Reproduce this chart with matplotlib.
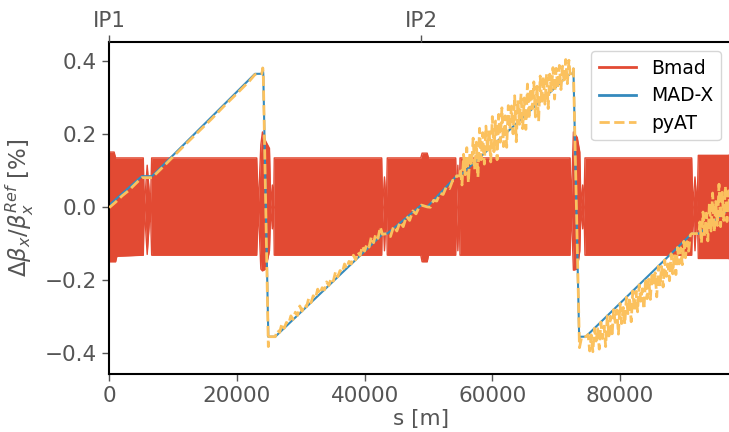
import matplotlib
matplotlib.use("Agg")
import matplotlib.pyplot as plt
import numpy as np

# ---------------- data ----------------
circumference = 97756
ip_positions = [0, 48878]
ip_labels = ["IP1", "IP2"]

# Bmad: envelope of the fast beta-beat oscillation
bmad_s = [0, 770, 1000, 1200, 5340, 5500, 5950, 6450, 6650,
          23100, 23350, 23750, 24000, 24500, 25100, 25300, 25550, 25750, 25850,
          42670, 42820, 43110, 43400, 43550,
          48800, 49000, 49800, 50000,
          54260, 54400, 54600, 54800, 54940,
          72170, 72350, 72700, 73300, 73700, 73880, 74150, 74350, 74510,
          91220, 91400, 91740, 92080, 92260, 97000, 97756]
bmad_upper = [0.150, 0.150, 0.134, 0.134, 0.134, 0.0, 0.114, 0.0, 0.134,
              0.134, 0.0, 0.170, 0.205, 0.180, 0.160, 0.0, 0.060, 0.0, 0.134,
              0.134, 0.0, 0.082, 0.0, 0.134,
              0.134, 0.147, 0.147, 0.134,
              0.134, 0.0, 0.114, 0.0, 0.134,
              0.134, 0.0, 0.205, 0.190, 0.150, 0.0, 0.060, 0.0, 0.134,
              0.134, 0.0, 0.082, 0.0, 0.141, 0.141, 0.150]
bmad_lower = [-0.150, -0.150, -0.150, -0.135, -0.132, 0.0, -0.130, 0.0, -0.132,
              -0.132, 0.0, -0.170, -0.175, -0.170, -0.120, 0.0, -0.060, 0.0, -0.132,
              -0.132, 0.0, -0.120, 0.0, -0.132,
              -0.132, -0.150, -0.150, -0.132,
              -0.132, 0.0, -0.120, 0.0, -0.132,
              -0.132, 0.0, -0.173, -0.170, -0.120, 0.0, -0.060, 0.0, -0.132,
              -0.132, 0.0, -0.120, 0.0, -0.141, -0.141, -0.150]

# MAD-X
madx_s = [0, 5100, 6700, 22830, 23900, 24050, 24130, 24920, 26000, 42900, 43550,
          48878, 49800, 54400, 54940, 72170, 72600, 72700, 73600, 74630, 91230,
          92370, 97756]
madx_y = [0.005, 0.084, 0.084, 0.364, 0.364, 0.380, 0.364, -0.355, -0.355, -0.073, -0.073,
          0.005, 0.000, 0.085, 0.085, 0.364, 0.364, 0.378, -0.355, -0.355, -0.073,
          -0.073, 0.005]

# pyAT (including its jagged bands)
pyat_s = [0, 1000, 2000, 3000, 4000, 5100, 6700, 8000, 10000, 12000, 14000, 16000,
          18000, 20000, 22000, 22830, 23900, 24050, 24130, 24920, 25000,
          26000, 26350, 26700, 27050, 27400, 27750, 28100, 28450, 28800, 29150,
          29500, 29850, 30200, 30550, 30900, 31250, 31600, 31950, 32300, 32650,
          33000, 33350, 33700, 34050, 34400, 34750, 35100, 35450, 35800, 36150,
          36500, 36850, 37200, 37550, 37900, 38250, 38600, 38950, 39300, 39650,
          40000, 40350, 40700, 41050, 41400, 41750, 42100, 42450, 42800,
          43550, 44050, 44550, 45050, 45550, 46050, 46550, 47050, 47550, 48050, 48550,
          48878, 49800, 50300, 50800, 51300, 51800, 52300, 52800, 53300, 53800, 54300,
          54400, 54940,
          55000, 55250, 55500, 55750, 56000, 56250, 56500, 56750, 57000, 57250,
          57500, 57750, 58000, 58250, 58500, 58750, 59000, 59250, 59500, 59750,
          60000, 60250, 60500, 60750, 61000, 61250, 61500, 61750, 62000, 62250,
          62500, 62750, 63000, 63250, 63500, 63750, 64000, 64250, 64500, 64750,
          65000, 65250, 65500, 65750, 66000, 66250, 66500, 66750, 67000, 67250,
          67500, 67750, 68000, 68250, 68500, 68750, 69000, 69250, 69500, 69750,
          70000, 70250, 70500, 70750, 71000, 71250, 71500, 71750, 72000,
          72170, 72600, 72700, 73600, 73650, 74000, 74630,
          75000, 75250, 75500, 75750, 76000, 76250, 76500, 76750, 77000, 77250,
          77500, 77750, 78000, 78250, 78500, 78750, 79000, 79250, 79500, 79750,
          80000, 80250, 80500, 80750, 81000, 81250, 81500, 81750, 82000, 82250,
          82500, 82750, 83000, 83250, 83500, 83750, 84000, 84250, 84500, 84750,
          85000, 85250, 85500, 85750, 86000, 86250, 86500, 86750, 87000, 87250,
          87500, 87750, 88000, 88250, 88500, 88750, 89000, 89250, 89500, 89750,
          90000, 90250, 90500, 90750, 91000, 91230, 92370,
          92500, 92750, 93000, 93250, 93500, 93750, 94000, 94250, 94500, 94750,
          95000, 95250, 95500, 95750, 96000, 96250, 96500, 96750, 97000, 97250,
          97500, 97750]
pyat_y = [-0.002, 0.013, 0.030, 0.044, 0.061, 0.080, 0.080, 0.102, 0.137, 0.172, 0.206, 0.240,
          0.276, 0.310, 0.345, 0.362, 0.364, 0.380, 0.364, -0.382, -0.355,
          -0.355, -0.337, -0.343, -0.319, -0.332, -0.316, -0.320, -0.298, -0.308, -0.288,
          -0.297, -0.271, -0.285, -0.267, -0.273, -0.250, -0.262, -0.243, -0.250, -0.225,
          -0.238, -0.221, -0.227, -0.205, -0.215, -0.195, -0.203, -0.177, -0.191, -0.174,
          -0.180, -0.156, -0.168, -0.149, -0.156, -0.132, -0.145, -0.124, -0.133, -0.107,
          -0.121, -0.102, -0.110, -0.082, -0.098, -0.074, -0.086, -0.055, -0.075,
          -0.073, -0.081, -0.053, -0.066, -0.041, -0.054, -0.025, -0.037, -0.011, -0.019, 0.000,
          0.005, 0.000, -0.001, 0.018, 0.016, 0.037, 0.034, 0.055, 0.050, 0.073, 0.073,
          0.085, 0.085,
          0.106, 0.060, 0.144, 0.088, 0.162, 0.066, 0.150, 0.114, 0.188, 0.102,
          0.177, 0.081, 0.215, 0.129, 0.203, 0.117, 0.221, 0.155, 0.209, 0.123,
          0.247, 0.151, 0.235, 0.129, 0.253, 0.177, 0.271, 0.165, 0.249, 0.163,
          0.277, 0.212, 0.276, 0.200, 0.304, 0.178, 0.292, 0.226, 0.310, 0.214,
          0.298, 0.212, 0.336, 0.240, 0.324, 0.268, 0.342, 0.246, 0.330, 0.234,
          0.358, 0.283, 0.357, 0.281, 0.365, 0.269, 0.363, 0.317, 0.381, 0.295,
          0.379, 0.323, 0.387, 0.321, 0.385, 0.339, 0.403, 0.337, 0.401,
          0.364, 0.364, 0.378, -0.355, -0.385, -0.355, -0.355,
          -0.349, -0.394, -0.350, -0.396, -0.332, -0.367, -0.333, -0.389, -0.315, -0.360,
          -0.326, -0.382, -0.298, -0.353, -0.299, -0.355, -0.281, -0.316, -0.282, -0.348,
          -0.264, -0.319, -0.275, -0.321, -0.247, -0.292, -0.248, -0.314, -0.230, -0.285,
          -0.231, -0.287, -0.213, -0.258, -0.224, -0.280, -0.196, -0.251, -0.197, -0.253,
          -0.179, -0.214, -0.180, -0.246, -0.162, -0.217, -0.163, -0.219, -0.145, -0.190,
          -0.156, -0.202, -0.128, -0.183, -0.129, -0.185, -0.111, -0.156, -0.112, -0.158,
          -0.094, -0.139, -0.095, -0.121, -0.077, -0.073, -0.073,
          -0.041, -0.098, -0.014, -0.080, -0.017, -0.093, 0.011, -0.066, 0.038, -0.069,
          0.015, -0.051, 0.062, -0.054, 0.040, -0.037, 0.057, -0.040, 0.044, -0.022,
          0.041, -0.005]

# ---------------- style ----------------
c_bmad = "#E24A33"
c_madx = "#348ABD"
c_pyat = "#FBC15E"
txt = "#555555"

plt.rcParams["font.family"] = ["DejaVu Sans"]
plt.rcParams["font.size"] = 13

fig = plt.figure(figsize=(7.29, 4.32), dpi=100)
W, H = 729.0, 432.0
x0, x1, ytop, ybot = 109.2, 733.4, 42.0, 374.0
ax = fig.add_axes([x0 / W, 1 - ybot / H, (x1 - x0) / W, (ybot - ytop) / H])

ax.fill_between(bmad_s, bmad_lower, bmad_upper, color=c_bmad, lw=0, zorder=1)
ax.plot(bmad_s, bmad_upper, color=c_bmad, lw=1.0, zorder=1, label="Bmad")
ax.plot(bmad_s, bmad_lower, color=c_bmad, lw=1.0, zorder=1)
ax.plot(madx_s, madx_y, color=c_madx, lw=1.5, zorder=2, label="MAD-X")
ax.plot(pyat_s, pyat_y, color=c_pyat, lw=2.0, ls="--", zorder=3, label="pyAT")

ax.set_xlim(0, circumference)
ax.set_ylim(-0.457, 0.451)
ax.set_xticks([0, 20000, 40000, 60000, 80000])
ax.set_yticks([-0.4, -0.2, 0.0, 0.2, 0.4])
ax.set_xlabel("s [m]", color=txt, fontsize=15.5, labelpad=2)
ax.set_ylabel(r"$\Delta\beta_x/\beta_x^{Ref}$ [%]", color=txt, fontsize=16.5, labelpad=6)
ax.tick_params(colors=txt, labelsize=15.5, length=5, width=1, direction="out", pad=4)
for sp in ax.spines.values():
    sp.set_color("black")
    sp.set_linewidth(1.5)

leg = ax.legend(loc="upper right", fontsize=13.5, frameon=True, fancybox=True,
                bbox_to_anchor=(0.995, 1.0), handlelength=2.0, labelspacing=0.45)
leg.get_frame().set_edgecolor("#cccccc")
for t in leg.get_texts():
    t.set_color("black")
for l in leg.get_lines():
    l.set_linewidth(2.0)

ax2 = ax.twiny()
ax2.set_xlim(0, circumference)
ax2.set_xticks(ip_positions)
ax2.set_xticklabels(ip_labels)
ax2.tick_params(colors=txt, labelsize=15.5, length=5, width=1, pad=3)
for sp in ax2.spines.values():
    sp.set_visible(False)

fig.savefig("out.png", dpi=100)
